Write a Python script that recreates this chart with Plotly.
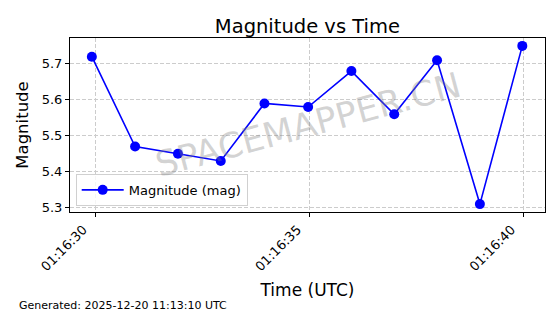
import plotly.graph_objects as go

times = ["2025-12-20 01:16:29.92", "2025-12-20 01:16:30.93", "2025-12-20 01:16:31.93",
         "2025-12-20 01:16:32.93", "2025-12-20 01:16:33.95", "2025-12-20 01:16:34.97",
         "2025-12-20 01:16:35.98", "2025-12-20 01:16:36.98", "2025-12-20 01:16:37.98",
         "2025-12-20 01:16:38.98", "2025-12-20 01:16:39.97"]
magnitudes = [5.72, 5.47, 5.45, 5.43, 5.59, 5.58, 5.68, 5.56, 5.71, 5.31, 5.75]
tick_vals = ["2025-12-20 01:16:30", "2025-12-20 01:16:35", "2025-12-20 01:16:40"]
tick_text = ["01:16:30", "01:16:35", "01:16:40"]
y_ticks = [5.3, 5.4, 5.5, 5.6, 5.7]

FONT = "DejaVu Sans"

fig = go.Figure()
fig.add_trace(go.Scatter(
    x=times, y=magnitudes, mode="lines+markers", name="Magnitude (mag)",
    line=dict(color="#0000ff", width=1.6),
    marker=dict(color="#0000ff", size=10),
))

fig.update_layout(
    width=560, height=314,
    margin=dict(l=70, r=15, t=38, b=102),
    paper_bgcolor="white", plot_bgcolor="white",
    font=dict(family=FONT, color="black", size=13),
    title=dict(text="Magnitude vs Time", x=0.549, xanchor="center", y=0.918, yanchor="middle",
               font=dict(size=19.5, family=FONT, color="black")),
    showlegend=True,
    legend=dict(x=0.012, y=0.035, xanchor="left", yanchor="bottom",
                bordercolor="#d0d0d0", borderwidth=1, bgcolor="rgba(255,255,255,0.8)",
                itemwidth=42,
                font=dict(size=13, family=FONT)),
)

fig.update_xaxes(
    type="date",
    range=["2025-12-20 01:16:29.41", "2025-12-20 01:16:40.50"],
    tickvals=tick_vals, ticktext=tick_text, tickangle=-45,
    ticks="outside", ticklen=4, tickcolor="black",
    tickfont=dict(size=13, family=FONT), ticklabelshift=-12,
    showline=True, linecolor="black", linewidth=1, mirror=True,
    showgrid=True, gridcolor="#cccccc", griddash="4px,2px", gridwidth=1,
    zeroline=False,
    title=dict(text="Time (UTC)", font=dict(size=17, family=FONT), standoff=10),
)
fig.update_yaxes(
    range=[5.288, 5.772],
    tickvals=y_ticks, ticktext=[f"{v:.1f}" for v in y_ticks],
    ticks="outside", ticklen=4, tickcolor="black",
    tickfont=dict(size=13, family=FONT),
    showline=True, linecolor="black", linewidth=1, mirror=True,
    showgrid=True, gridcolor="#cccccc", griddash="4px,2px", gridwidth=1,
    zeroline=False,
    title=dict(text="Magnitude", font=dict(size=16.5, family=FONT), standoff=8),
)

fig.add_annotation(
    text="SPACEMAPPER.CN", xref="paper", yref="paper", x=0.5, y=0.5,
    showarrow=False, textangle=-15,
    font=dict(size=35, family=FONT, color="rgba(128,128,128,0.35)"),
)
fig.add_annotation(
    text="Generated: 2025-12-20 11:13:10 UTC", xref="paper", yref="paper",
    x=(17 - 70) / 475, y=(212 - 305) / 174, xanchor="left", yanchor="middle", showarrow=False,
    font=dict(size=11, family=FONT, color="black"),
)

fig.write_html("out.html")
